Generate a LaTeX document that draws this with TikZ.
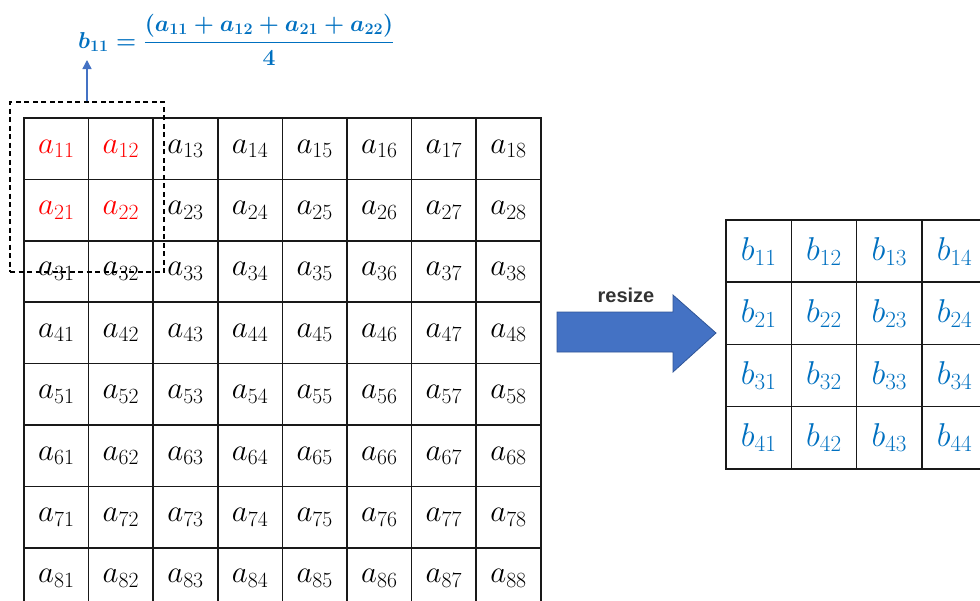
\RequirePackage{fix-cm}
\documentclass[tikz,border=0pt]{standalone}
\usepackage{amsmath}
\usepackage{fontspec}
\newfontfamily\labelfont{Liberation Sans}
\usepackage{tikz}
\usetikzlibrary{arrows.meta, positioning, calc}

\definecolor{bblue}{RGB}{0,112,192}
\definecolor{arrowblue}{RGB}{68,114,196}
\definecolor{arrowedge}{RGB}{47,85,151}

\newcommand{\meanformula}{{\boldmath$b_{11} = \dfrac{(a_{11}+a_{12}+a_{21}+a_{22})}{4}$}}

\begin{document}
\begin{tikzpicture}[
  x=1pt, y=-1pt,
  acell/.style={
    draw=black!90, line width=1.5pt, inner sep=0pt,
    minimum width=64.6pt, minimum height=61.4pt,
    font=\fontsize{31}{36}\selectfont
  },
  bcell/.style={
    draw=black!90, line width=1.5pt, inner sep=0pt,
    minimum width=65.3pt, minimum height=62.2pt,
    font=\fontsize{33}{38}\selectfont, text=bblue
  },
  window/.style={
    draw=black, line width=1.2pt, dash pattern=on 5pt off 3.5pt,
    inner sep=0pt, minimum width=154pt, minimum height=170pt
  },
  formel/.style={
    anchor=west, inner sep=0pt, text=bblue,
    font=\fontsize{23}{28}\selectfont
  },
  pointer/.style={
    -{Triangle[length=9pt, width=9pt]},
    line width=1.4pt, draw=arrowblue
  },
  bloc/.style={fill=arrowblue, draw=arrowedge, line width=0.8pt},
  tag/.style={font=\labelfont\bfseries\fontsize{20}{24}\selectfont, text=black!80}
]
  \useasboundingbox (0,0) rectangle (980,600);
  \clip (0,0) rectangle (980,600);

  % Input matrix
  \foreach \i in {1,...,8}
    \foreach \j in {1,...,8} {
      \def\tint{black}
      \ifnum\i<3 \ifnum\j<3 \def\tint{red}\fi\fi
      \node[acell, text=\tint] (a\i\j) at ({24+64.6*(\j-0.5)},{118+61.4*(\i-0.5)}) {$a_{\i\j}$};
    }

  % Resized matrix
  \foreach \i in {1,...,4}
    \foreach \j in {1,...,4} {
      \node[bcell] (b\i\j) at ({726+65.3*(\j-0.5)},{220+62.2*(\i-0.5)}) {$b_{\i\j}$};
    }

  % Pooling window and formula
  \node[window] (win) at (87,187) {};
  \node[formel] (formula) at (78,40) {\meanformula};
  \coordinate (tip) at (87,60);
  \draw[pointer] (win.north) -- (tip);

  % Resize arrow
  \draw[bloc] (557,312) -- (673,312) -- (673,295) -- (716,333) -- (673,372) -- (673,352) -- (557,352) -- cycle;
  \node[tag] (resize) at (626,295) {resize};

\end{tikzpicture}
\end{document}
